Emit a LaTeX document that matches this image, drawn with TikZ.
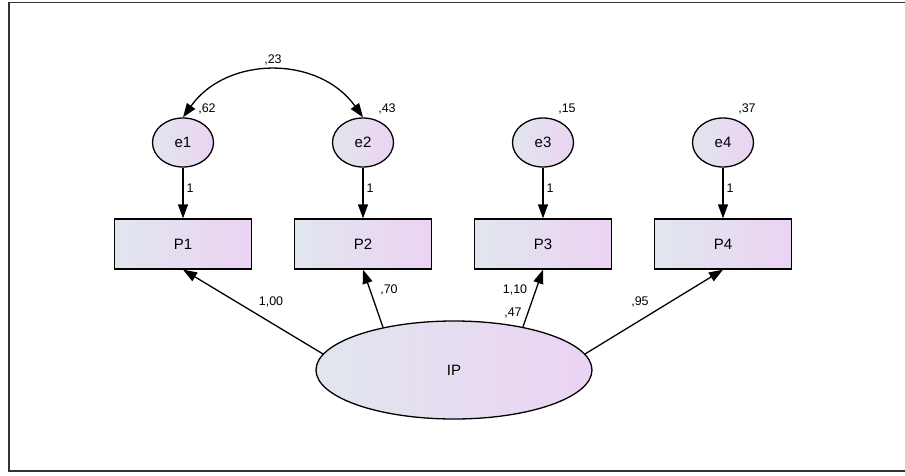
\documentclass[tikz,border=0pt]{standalone}
\usepackage{fontspec}
\setmainfont{Liberation Sans}
\usepackage{xcolor}
\usetikzlibrary{positioning, arrows.meta, shapes.geometric}
\definecolor{shadeL}{HTML}{E1E6EE}
\definecolor{shadeR}{HTML}{EBD3F3}

\begin{document}
\begin{tikzpicture}[x=1pt,y=-1pt,line width=1.3pt,
  err/.style={ellipse,draw,left color=shadeL,right color=shadeR,minimum width=61pt,minimum height=49pt,inner sep=0pt,font=\fontsize{15}{18}\selectfont},
  obs/.style={rectangle,draw,left color=shadeL,right color=shadeR,minimum width=137pt,minimum height=50pt,inner sep=0pt,font=\fontsize{15}{18}\selectfont},
  lat/.style={ellipse,draw,left color=shadeL,right color=shadeR,minimum width=276pt,minimum height=98pt,inner sep=0pt,font=\fontsize{15}{18}\selectfont},
  est/.style={inner sep=0pt,font=\fontsize{12.5}{14}\selectfont},
  load/.style={-{Triangle[length=14pt,width=10pt]}}]
\useasboundingbox (0,0) rectangle (905,475);
% frame
\draw[line width=1.5pt,black!80] (906,2.5) -- (9,2.5) -- (9,471) -- (906,471);

% errors and indicators
\foreach \i/\x/\v in {1/183/{,62},2/363/{,43},3/543/{,15},4/723/{,37}}{
  \node[err] (e\i) at (\x,142.5) {e\i};
  \node[obs] (P\i) at (\x,244) {P\i};
  \node[est] (v\i) at (\x+24,109) {\v};
  \draw[load] (e\i) -- (P\i) node[est,pos=0.4,right=3pt] (one\i) {1};
}

% latent
\node[lat] (IP) at (454,370) {IP};
\node[est] (vIP) at (513,313) {,47};

% loadings
\draw[load] (IP.173) -- (P1.south);
\draw[load] (IP.149) -- (P2.south);
\draw[load] (IP.32) -- (P3.south);
\draw[load] (IP.7) -- (P4.south);
\node[est] (l1) at (271,302) {1,00};
\node[est] (l2) at (389,290) {,70};
\node[est] (l3) at (515,290) {1,10};
\node[est] (l4) at (640,302) {,95};

% covariance
\draw[{Triangle[length=14pt,width=10pt]}-{Triangle[length=14pt,width=10pt]}] (e1.north) .. controls +(44,-62) and +(-44,-62) .. (e2.north);
\node[est] (c12) at (273,60) {,23};
\end{tikzpicture}
\end{document}
